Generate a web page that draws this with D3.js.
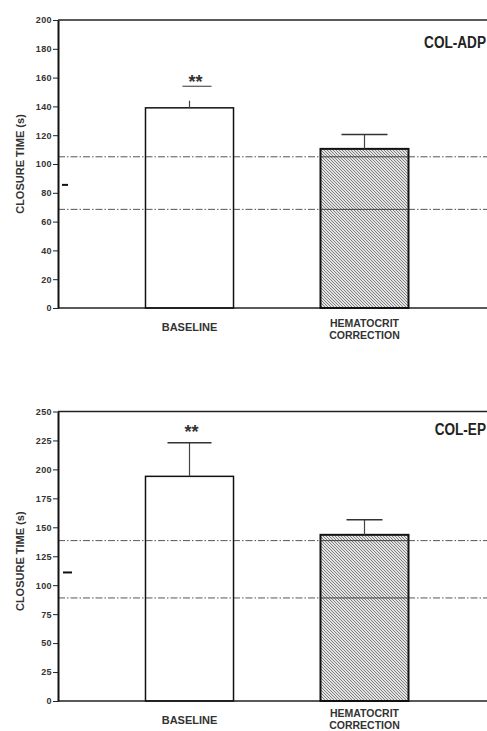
<!DOCTYPE html>
<html lang="en">
<head>
<meta charset="UTF-8">
<title>Closure time</title>
<script src="https://d3js.org/d3.v7.min.js"></script>
<style>
    body { margin: 0; background: #fff; }
    .axis text { font-family: "Liberation Sans", Arial, sans-serif; font-size: 9px; font-weight: bold; fill: #333; letter-spacing: 0.4px; }
    .axis line { stroke: #222; }
    .axis path { stroke: #111; stroke-width: 2px; }
    .lbl { font-family: "Liberation Sans", Arial, sans-serif; font-weight: bold; fill: #333; }
</style>
</head>
<body>
<svg width="487" height="731"></svg>
<script>
    // data
    var categories = ["BASELINE", "HEMATOCRIT CORRECTION"];
    var adpMeans = [139, 110.5];
    var adpErrors = [5, 10];
    var adpRefLines = [105, 68.5];
    var adpMark = 85.5;
    var adpTicks = [0, 20, 40, 60, 80, 100, 120, 140, 160, 180, 200];

    var epMeans = [194, 143.5];
    var epErrors = [29, 13];
    var epRefLines = [138.5, 89];
    var epMark = 111;
    var epTicks = [0, 25, 50, 75, 100, 125, 150, 175, 200, 225, 250];

    var svg = d3.select("svg");
    var left = 58, right = 487;

    // hatch pattern for the corrected bar
    var defs = svg.append("defs");
    var pat = defs.append("pattern")
        .attr("id", "hatch")
        .attr("patternUnits", "userSpaceOnUse")
        .attr("width", 3).attr("height", 3);
    pat.append("rect").attr("width", 3).attr("height", 3).attr("fill", "#e4e4e4");
    pat.append("path")
        .attr("d", "M-1,-1 L4,4 M-1,2 L1,4 M2,-1 L4,1")
        .attr("stroke", "#666").attr("stroke-width", 0.8);

    var x = d3.scaleBand()
        .domain(categories)
        .range([left, 496])
        .paddingInner(0.497)
        .paddingOuter(0.5);

    function panel(opts) {
        var y = d3.scaleLinear().domain([0, opts.max]).range([opts.bottom, opts.top]);
        var g = svg.append("g");

        // frame top and baseline
        g.append("line").attr("x1", left).attr("x2", right)
            .attr("y1", y(opts.max)).attr("y2", y(opts.max))
            .attr("stroke", "#222").attr("stroke-width", 1.6);
        g.append("line").attr("x1", left).attr("x2", right)
            .attr("y1", y(0)).attr("y2", y(0))
            .attr("stroke", "#222").attr("stroke-width", 1.6);

        // reference dash-dot lines
        opts.refs.forEach(function(v) {
            g.append("line").attr("x1", left).attr("x2", right)
                .attr("y1", y(v)).attr("y2", y(v))
                .attr("stroke", "#444").attr("stroke-width", 0.9)
                .attr("stroke-dasharray", "7,2,1.5,2");
        });

        // bars
        categories.forEach(function(c, i) {
            g.append("rect")
                .attr("x", x(c))
                .attr("y", y(opts.means[i]))
                .attr("width", x.bandwidth())
                .attr("height", y(0) - y(opts.means[i]))
                .attr("fill", i === 0 ? "none" : "url(#hatch)")
                .attr("stroke", "#111")
                .attr("stroke-width", i === 0 ? 1.5 : 2);
            if (i === 1) {
                // reference lines show through the hatched bar
                opts.refs.forEach(function(v) {
                    g.append("line").attr("x1", x(c)).attr("x2", x(c) + x.bandwidth())
                        .attr("y1", y(v)).attr("y2", y(v))
                        .attr("stroke", "#333").attr("stroke-width", 0.9);
                });
            }

            var cx = x(c) + x.bandwidth() / 2;
            var top = opts.means[i] + opts.errs[i];
            g.append("line").attr("x1", cx).attr("x2", cx)
                .attr("y1", y(opts.means[i])).attr("y2", y(top))
                .attr("stroke", "#444").attr("stroke-width", 1.2);
            if (opts.caps[i] > 0) {
                g.append("line")
                    .attr("x1", cx - opts.caps[i]).attr("x2", cx + opts.caps[i])
                    .attr("y1", y(top)).attr("y2", y(top))
                    .attr("stroke", "#333").attr("stroke-width", 1.6);
            }
        });

        // significance stars over baseline
        var c0 = x(categories[0]) + x.bandwidth() / 2;
        g.append("text").attr("class", "lbl")
            .attr("x", c0 + opts.starDx).attr("y", y(opts.starVal))
            .attr("text-anchor", "middle")
            .attr("font-size", 18)
            .text("**");
        if (opts.starLine) {
            g.append("line")
                .attr("x1", c0 - 7).attr("x2", c0 + 22)
                .attr("y1", y(opts.starLine)).attr("y2", y(opts.starLine))
                .attr("stroke", "#333").attr("stroke-width", 1);
        }

        // short mark right of the axis
        g.append("line").attr("x1", left + opts.markFrom).attr("x2", left + opts.markTo)
            .attr("y1", y(opts.mark)).attr("y2", y(opts.mark))
            .attr("stroke", "#111").attr("stroke-width", 2);

        // axis
        g.append("g").attr("class", "axis")
            .attr("transform", "translate(" + left + ",0)")
            .call(d3.axisLeft(y).tickValues(opts.ticks).tickSize(5).tickPadding(1).tickSizeOuter(0));

        // axis title
        var midY = (y(0) + y(opts.max)) / 2 + opts.titleDy;
        g.append("text").attr("class", "lbl")
            .attr("transform", "translate(24," + midY + ") rotate(-90)")
            .attr("text-anchor", "middle")
            .attr("font-size", 11)
            .text("CLOSURE TIME (s)");

        // category labels
        g.append("text").attr("class", "lbl")
            .attr("x", x(categories[0]) + x.bandwidth() / 2).attr("y", y(0) + opts.baseDy)
            .attr("text-anchor", "middle").attr("font-size", 11)
            .text(categories[0]);
        var words = categories[1].split(" ");
        words.forEach(function(w, k) {
            g.append("text").attr("class", "lbl")
                .attr("x", x(categories[1]) + x.bandwidth() / 2)
                .attr("y", y(0) + opts.corrDy + k * 12)
                .attr("text-anchor", "middle").attr("font-size", 10.5)
                .text(w);
        });

        // panel title, condensed like the original typeface
        g.append("text")
            .attr("transform", "translate(486," + opts.titleY + ") scale(0.8,1)")
            .attr("text-anchor", "end")
            .attr("font-family", "'Liberation Sans', Arial, sans-serif")
            .attr("font-size", 17)
            .attr("font-weight", "bold")
            .attr("fill", "#222")
            .text(opts.title);
    }

    panel({
        top: 20, bottom: 308, max: 200,
        means: adpMeans, errs: adpErrors, refs: adpRefLines, ticks: adpTicks,
        caps: [0, 23], mark: adpMark, markFrom: 4, markTo: 10,
        starVal: 153, starDx: 6, starLine: 154,
        titleDy: 0, baseDy: 23, corrDy: 19,
        title: "COL-ADP", titleY: 48
    });

    panel({
        top: 411.5, bottom: 701, max: 250,
        means: epMeans, errs: epErrors, refs: epRefLines, ticks: epTicks,
        caps: [22, 18], mark: epMark, markFrom: 5, markTo: 14,
        starVal: 227, starDx: 2, starLine: 0,
        titleDy: 5, baseDy: 23, corrDy: 16,
        title: "COL-EP", titleY: 435
    });
</script>
</body>
</html>
